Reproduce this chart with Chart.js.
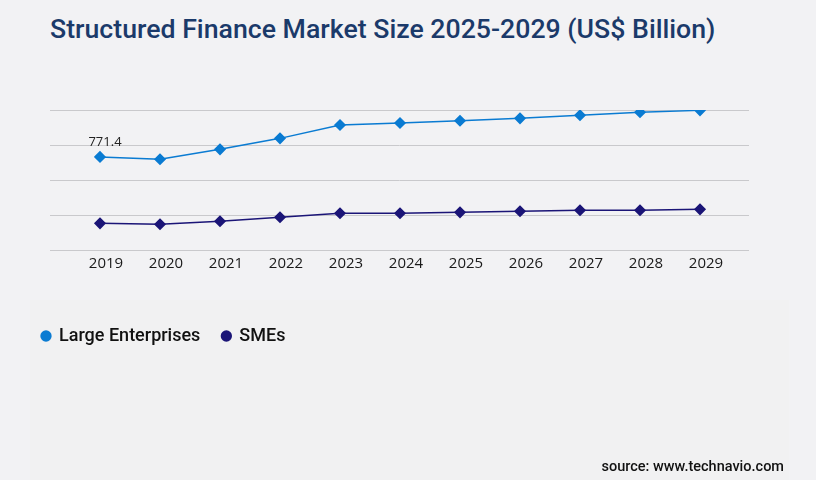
<!DOCTYPE html>
<html>
<head>
<meta charset="utf-8">
<title>Structured Finance Market Size</title>
<script src="https://cdn.jsdelivr.net/npm/chart.js@4.4.1/dist/chart.umd.min.js"></script>
<style>
    html, body {
        margin: 0;
        padding: 0;
        width: 816px;
        height: 480px;
        background: #f2f2f4;
        overflow: hidden;
        position: relative;
    }
    .panel {
        position: absolute;
        left: 30px;
        top: 300px;
        width: 759px;
        height: 180px;
        background: #f1f1f2;
    }
    .title {
        position: absolute;
        left: 50px;
        top: 13px;
        font-family: Roboto, sans-serif;
        font-weight: 500;
        font-size: 26.7px;
        color: #1b3a6a;
        white-space: nowrap;
    }
    .source {
        position: absolute;
        right: 32px;
        top: 458px;
        font-family: Roboto, sans-serif;
        font-weight: 500;
        font-size: 14.5px;
        line-height: 17px;
        color: #111;
    }
    #chartWrap {
        position: absolute;
        left: 0;
        top: 0;
        width: 816px;
        height: 480px;
    }
</style>
</head>
<body>
<div class="panel"></div>
<div class="title">Structured Finance Market Size 2025-2029 (US$ Billion)</div>
<div id="chartWrap"><canvas id="marketChart"></canvas></div>
<div class="source">source: www.technavio.com</div>

<script>
// ========================================
// DATA
// ========================================
const years = [2019, 2020, 2021, 2022, 2023, 2024, 2025, 2026, 2027, 2028, 2029];
const largeEnterprises = [771.4, 752, 834, 925, 1036, 1052, 1071, 1091, 1116, 1141, 1157];
const smes = [221, 213, 238, 271, 304, 304, 312, 321, 329, 329, 337];
const yTicks = [0, 290, 580, 870, 1160];

// Only the first point carries a label in the source image
const labelledPoints = [{ dataset: 0, index: 0, text: '771.4' }];

// ========================================
// PLUGINS
// ========================================
const pointLabelPlugin = {
    id: 'pointLabels',
    afterDatasetsDraw(chart) {
        const ctx = chart.ctx;
        ctx.save();
        ctx.font = '13px "Open Sans", sans-serif';
        ctx.fillStyle = '#222';
        ctx.textAlign = 'center';
        ctx.textBaseline = 'middle';
        labelledPoints.forEach(function (lbl) {
            const el = chart.getDatasetMeta(lbl.dataset).data[lbl.index];
            if (el) ctx.fillText(lbl.text, el.x + 5, el.y - 15);
        });
        ctx.restore();
    }
};

// ========================================
// CHART
// ========================================
function toPoints(values) {
    return values.map(function (v, i) { return { x: years[i], y: v }; });
}

function initializeChart() {
    const chartElement = document.getElementById('marketChart');
    if (!chartElement) return;

    new Chart(chartElement, {
        type: 'line',
        data: {
            datasets: [{
                label: 'Large Enterprises',
                data: toPoints(largeEnterprises),
                borderColor: '#0a7bd2',
                backgroundColor: '#0a7bd2',
                borderWidth: 1.5,
                pointStyle: 'rectRot',
                pointRadius: 5,
                pointHoverRadius: 5,
                tension: 0
            }, {
                label: 'SMEs',
                data: toPoints(smes),
                borderColor: '#1b1577',
                backgroundColor: '#1b1577',
                borderWidth: 1.5,
                pointStyle: 'rectRot',
                pointRadius: 5,
                pointHoverRadius: 5,
                tension: 0
            }]
        },
        options: {
            responsive: true,
            maintainAspectRatio: false,
            animation: false,
            layout: {
                padding: { left: 20, right: 67, top: 110, bottom: 125 }
            },
            plugins: {
                title: { display: false },
                tooltip: { enabled: false },
                legend: {
                    display: true,
                    position: 'bottom',
                    align: 'start',
                    labels: {
                        usePointStyle: true,
                        boxWidth: 8,
                        boxHeight: 8,
                        padding: 22,
                        color: '#111',
                        font: { family: 'Roboto', size: 18, weight: '500' },
                        generateLabels: function (chart) {
                            const items = Chart.defaults.plugins.legend.labels.generateLabels(chart);
                            items.forEach(function (item) {
                                item.pointStyle = 'circle';
                                item.lineWidth = 0;
                            });
                            return items;
                        }
                    }
                }
            },
            scales: {
                x: {
                    type: 'linear',
                    min: 2018 + 10 / 60,
                    max: 2029 + 49 / 60,
                    grid: { display: false, drawTicks: false },
                    border: { display: false },
                    afterBuildTicks: function (scale) {
                        scale.ticks = years.map(function (y) { return { value: y }; });
                    },
                    afterFit: function (scale) {
                        scale.height = 55;
                    },
                    ticks: {
                        padding: 5,
                        labelOffset: 6,
                        maxRotation: 0,
                        autoSkip: false,
                        color: '#1a1a1a',
                        font: { family: 'Open Sans', size: 15 },
                        callback: function (value) { return String(value); }
                    }
                },
                y: {
                    min: yTicks[0],
                    max: yTicks[yTicks.length - 1],
                    afterBuildTicks: function (scale) {
                        scale.ticks = yTicks.map(function (v) { return { value: v }; });
                    },
                    afterFit: function (scale) {
                        scale.width = 30;
                    },
                    grid: { color: '#c9c9cc', lineWidth: 1, drawTicks: false },
                    border: { display: false },
                    ticks: { display: false }
                }
            }
        },
        plugins: [pointLabelPlugin]
    });
}

document.addEventListener('DOMContentLoaded', initializeChart);
</script>
</body>
</html>
